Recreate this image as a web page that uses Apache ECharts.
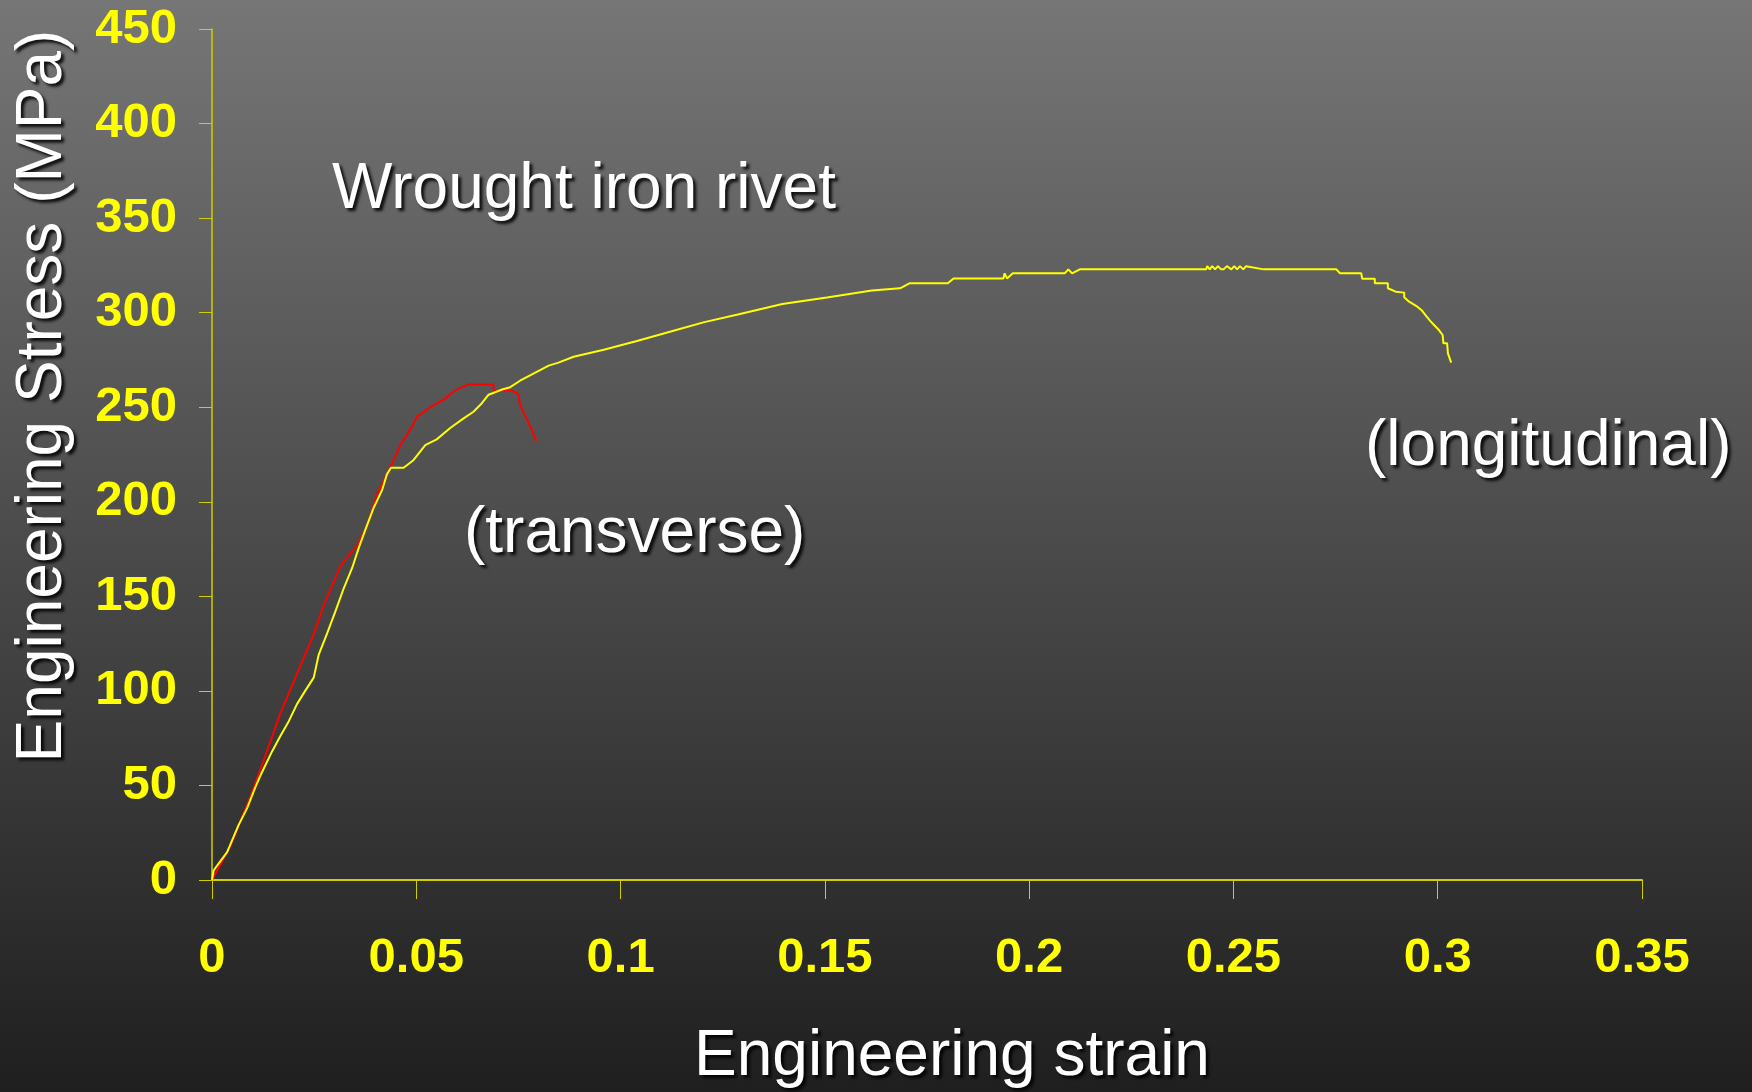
<!DOCTYPE html>
<html>
<head>
<meta charset="utf-8">
<title>Wrought iron rivet</title>
<script src="https://cdn.jsdelivr.net/npm/echarts@6/dist/echarts.min.js"></script>
<style>
  html, body { margin: 0; padding: 0; background: #222; }
  #chart { width: 1752px; height: 1092px; }
</style>
</head>
<body>
<div id="chart"></div>
<script>
  // transverse specimen (red)
  var transStrain = [0, 0.0045, 0.0094, 0.0136, 0.0167, 0.0208, 0.0249, 0.0273, 0.0314, 0.0355, 0.0379,
    0.0404, 0.0436, 0.0461, 0.0485, 0.0502, 0.0534, 0.0567, 0.0595, 0.0628, 0.0689, 0.0689, 0.073,
    0.075, 0.0754, 0.077, 0.0783, 0.0794];
  var transStress = [0, 18, 44, 69, 88, 109, 130, 145, 166, 177, 187,
    204, 218, 230, 238, 245, 250, 254, 259, 262, 262, 259, 259,
    257, 251, 244, 238, 232];

  // longitudinal specimen (yellow)
  var longStrain = [0, 0.0004, 0.0012, 0.0037, 0.0065, 0.0086, 0.0106, 0.0118, 0.0147, 0.0167, 0.0188,
    0.0208, 0.0228, 0.0249, 0.0261, 0.0282, 0.0302, 0.0322, 0.0343, 0.0359, 0.0375, 0.0396, 0.0416,
    0.0428, 0.0438, 0.0469, 0.0493, 0.0522, 0.055, 0.0583, 0.0615, 0.064, 0.066, 0.0677, 0.071,
    0.073, 0.0754, 0.0775, 0.0803, 0.0824, 0.0848, 0.0885, 0.0959, 0.104, 0.1123, 0.1205, 0.1287,
    0.1396, 0.1505, 0.1615, 0.1684, 0.1707, 0.1801, 0.1815, 0.1937, 0.194, 0.1946, 0.196, 0.2087,
    0.2096, 0.2105, 0.2124, 0.2433, 0.2436, 0.2442, 0.2448, 0.2455, 0.2462, 0.247, 0.2476, 0.2484,
    0.2495, 0.2502, 0.2509, 0.2516, 0.2524, 0.2531, 0.2574, 0.2752, 0.2761, 0.2813, 0.2815, 0.2846,
    0.2846, 0.2878, 0.2878, 0.2897, 0.2918, 0.2918, 0.293, 0.2948, 0.2962, 0.2972, 0.2981, 0.2991,
    0.3003, 0.3012, 0.3014, 0.3023, 0.3025, 0.3033];
  var longStress = [0, 5, 7.5, 14.7, 29, 38, 49, 55, 68, 76, 84,
    93, 100, 107, 119, 130.5, 142, 154, 165, 175.5, 185, 197, 206,
    214.5, 218, 218, 222, 230, 233, 239, 244, 247.6, 252, 256.6, 259.4,
    260.6, 264, 266.5, 269.6, 272, 273.6, 276.7, 280.4, 285, 290, 295, 299,
    304.6, 308, 311.7, 312.9, 315.5, 315.5, 318.1, 318.1, 320.8, 318.1, 320.8, 320.8,
    322.9, 320.8, 322.9, 322.9, 324.6, 322.9, 324.6, 322.9, 324.6, 322.9, 322.9, 324.6,
    322.9, 324.6, 322.9, 324.6, 322.9, 324.6, 322.9, 322.9, 320.8, 320.8, 318, 318,
    315.5, 315.5, 312.9, 311.1, 310.6, 308.1, 305.8, 303.5, 301, 298.2, 295.8, 293.5,
    290.8, 288.2, 283.8, 283.8, 278.5, 273.6];

  var xTicks = [0, 0.05, 0.1, 0.15, 0.2, 0.25, 0.3, 0.35];
  var yTicks = [0, 50, 100, 150, 200, 250, 300, 350, 400, 450];

  function zip(xs, ys) {
    var out = [];
    for (var i = 0; i < xs.length; i++) out.push([xs[i], ys[i]]);
    return out;
  }

  var chart = echarts.init(document.getElementById('chart'));
  var labelFont = '"Liberation Sans", Arial, sans-serif';
  var textFont = '"Liberation Sans", Arial, sans-serif';
  var axisColor = '#cfcf00';

  function whiteText(x, y, text, align, rot) {
    return {
      type: 'text',
      x: x,
      y: y,
      rotation: rot || 0,
      silent: true,
      style: {
        text: text,
        fill: '#ffffff',
        font: '64px ' + textFont,
        align: align,
        verticalAlign: 'middle',
        textShadowColor: 'rgba(0,0,0,0.85)',
        textShadowBlur: 3,
        textShadowOffsetX: 3,
        textShadowOffsetY: 3
      }
    };
  }

  var option = {
    animation: false,
    backgroundColor: {
      type: 'linear', x: 0, y: 0, x2: 0, y2: 1,
      colorStops: [
        { offset: 0, color: '#767676' },
        { offset: 1, color: '#1f1f1f' }
      ]
    },
    grid: { left: 212, right: 110, top: 29, bottom: 212 },
    xAxis: {
      type: 'value',
      min: xTicks[0],
      max: xTicks[xTicks.length - 1],
      interval: 0.05,
      splitLine: { show: false },
      axisLine: { lineStyle: { color: axisColor, width: 2 } },
      axisTick: { length: 19, lineStyle: { color: axisColor, width: 1 } },
      axisLabel: {
        margin: 54,
        color: '#ffff00',
        fontSize: 49,
        fontWeight: 'bold',
        fontFamily: labelFont
      }
    },
    yAxis: {
      type: 'value',
      min: yTicks[0],
      max: yTicks[yTicks.length - 1],
      interval: 50,
      splitLine: { show: false },
      axisLine: { show: true, lineStyle: { color: axisColor, width: 1.5 } },
      axisTick: { show: true, length: 13, lineStyle: { color: axisColor, width: 1 } },
      axisLabel: {
        margin: 35,
        color: '#ffff00',
        fontSize: 49,
        fontWeight: 'bold',
        fontFamily: labelFont
      }
    },
    series: [
      {
        name: 'transverse',
        type: 'line',
        data: zip(transStrain, transStress),
        showSymbol: false,
        lineStyle: { color: '#ff0000', width: 2 },
        z: 3
      },
      {
        name: 'longitudinal',
        type: 'line',
        data: zip(longStrain, longStress),
        showSymbol: false,
        lineStyle: { color: '#ffff00', width: 2 },
        z: 4
      }
    ],
    graphic: [
      whiteText(332, 190, 'Wrought iron rivet', 'left'),
      whiteText(464, 534, '(transverse)', 'left'),
      whiteText(1365, 447, '(longitudinal)', 'left'),
      whiteText(952, 1057, 'Engineering strain', 'center'),
      whiteText(43, 396, 'Engineering Stress (MPa)', 'center', Math.PI / 2)
    ]
  };

  chart.setOption(option);
</script>
</body>
</html>
